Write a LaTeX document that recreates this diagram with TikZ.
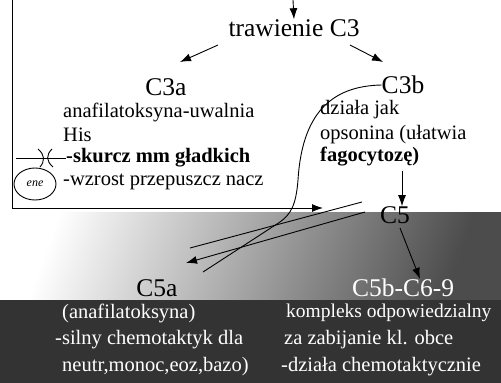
\documentclass[tikz,border=0pt]{standalone}
\usepackage{fontspec}
\setmainfont{Liberation Serif}
\usetikzlibrary{arrows.meta,shapes.geometric}
\begin{document}
\begin{tikzpicture}[x=1pt,y=-1pt,
  head/.style={font=\fontsize{25.5}{28}\selectfont, inner sep=0pt},
  body/.style={font=\fontsize{20.5}{23}\selectfont, inner sep=0pt, anchor=west},
  bodyb/.style={body, font=\fontsize{20.5}{23}\selectfont\bfseries},
  inv/.style={body, text=white},
  arr/.style={line width=0.9pt, -{Latex[length=11pt,width=8pt]}},
  ln/.style={line width=0.9pt}]
\useasboundingbox (0,0) rectangle (501,383);
% scanned background tones
\shade[left color=white, right color=black!70, shading angle=70] (0,212) rectangle (501,300);
\fill[black!80] (0,300) rectangle (501,383);

% top
\node[head] (trawienie) at (294,28) {trawienie C3};
\coordinate (top) at (293,0);
\draw[arr] (top) -- (trawienie.north);
\node[head] (C3a) at (166,87) {C3a};
\node[head] (C3b) at (403,85) {C3b};
\coordinate (tl1) at (218,45);
\coordinate (tl2) at (180,62);
\coordinate (tr1) at (350,45);
\coordinate (tr2) at (383,62);
\draw[arr] (tl1) -- (tl2);
\draw[arr] (tr1) -- (tr2);

% C3a description
\node[body] (anaf) at (63,112) {anafilatoksyna-uwalnia};
\node[body] (his) at (63,135) {His};
\node[bodyb] (skurcz) at (66,158) {-skurcz mm gładkich};
\node[body] (wzrost) at (63,182) {-wzrost przepuszcz nacz};
\coordinate (mk) at (16,158);
\draw[ln] (mk) -- (skurcz.west);
\draw[ln] (38,149) .. controls (45,155) and (45,161) .. (40,167);
\draw[ln] (52,149) .. controls (46,155) and (46,161) .. (53,167);
\node[draw, ellipse, line width=0.9pt, minimum width=42pt, minimum height=32pt, inner sep=0pt,
      font=\fontsize{12}{13}\selectfont\itshape] (ene) at (35,184) {ene};

% C3b description
\node[body] (dziala) at (320,110) {działa jak};
\node[body] (opso) at (320,135) {opsonina (ułatwia};
\node[bodyb] (fago) at (320,157) {fagocytozę)};

% C5
\node[head] (C5) at (395,215) {C5};
\coordinate (d1) at (402,171);
\draw[arr] (d1) -- (d1 |- C5.north);

% box with arrow into C5
\coordinate (boxtl) at (12,0);
\coordinate (boxbl) at (12,208);
\coordinate (boxend) at (323,208);
\draw[ln] (boxtl) -- (boxbl);
\draw[arr] (boxbl) -- (boxend);

% curve from C3b
\coordinate (cend) at (203,272);
\draw[ln] (C3b.west) .. controls (330,86) and (302,115) .. (298,180)
          .. controls (296,205) and (291,214) .. (280,222) -- (cend);

% lower nodes
\node[head] (C5a) at (157,288) {C5a};
\node[head, text=white] (C5b) at (403,288) {C5b-C6-9};

% C5 -> C5a
\coordinate (u1) at (362,202);
\coordinate (u2) at (190,248);
\coordinate (w1) at (365,212);
\coordinate (w2) at (186,263);
\draw[ln] (u1) -- (u2);
\draw[arr] (w1) -- (w2);

% C5 -> C5b-C6-9
\coordinate (v1) at (400,228);
\draw[arr] (v1) -- (C5b.north -| 420,0);

% bottom texts
\node[inv] (l1) at (62,313) {(anafilatoksyna)};
\node[inv] (l2) at (55,340) {-silny chemotaktyk dla};
\node[inv] (l3) at (62,367) {neutr,monoc,eoz,bazo)};
\node[inv, font=\fontsize{19.5}{22}\selectfont] (r1) at (286,313) {kompleks odpowiedzialny};
\node[inv] (r2) at (284,340) {za zabijanie kl. obce};
\node[inv] (r3) at (281,367) {-działa chemotaktycznie};
\end{tikzpicture}
\end{document}
